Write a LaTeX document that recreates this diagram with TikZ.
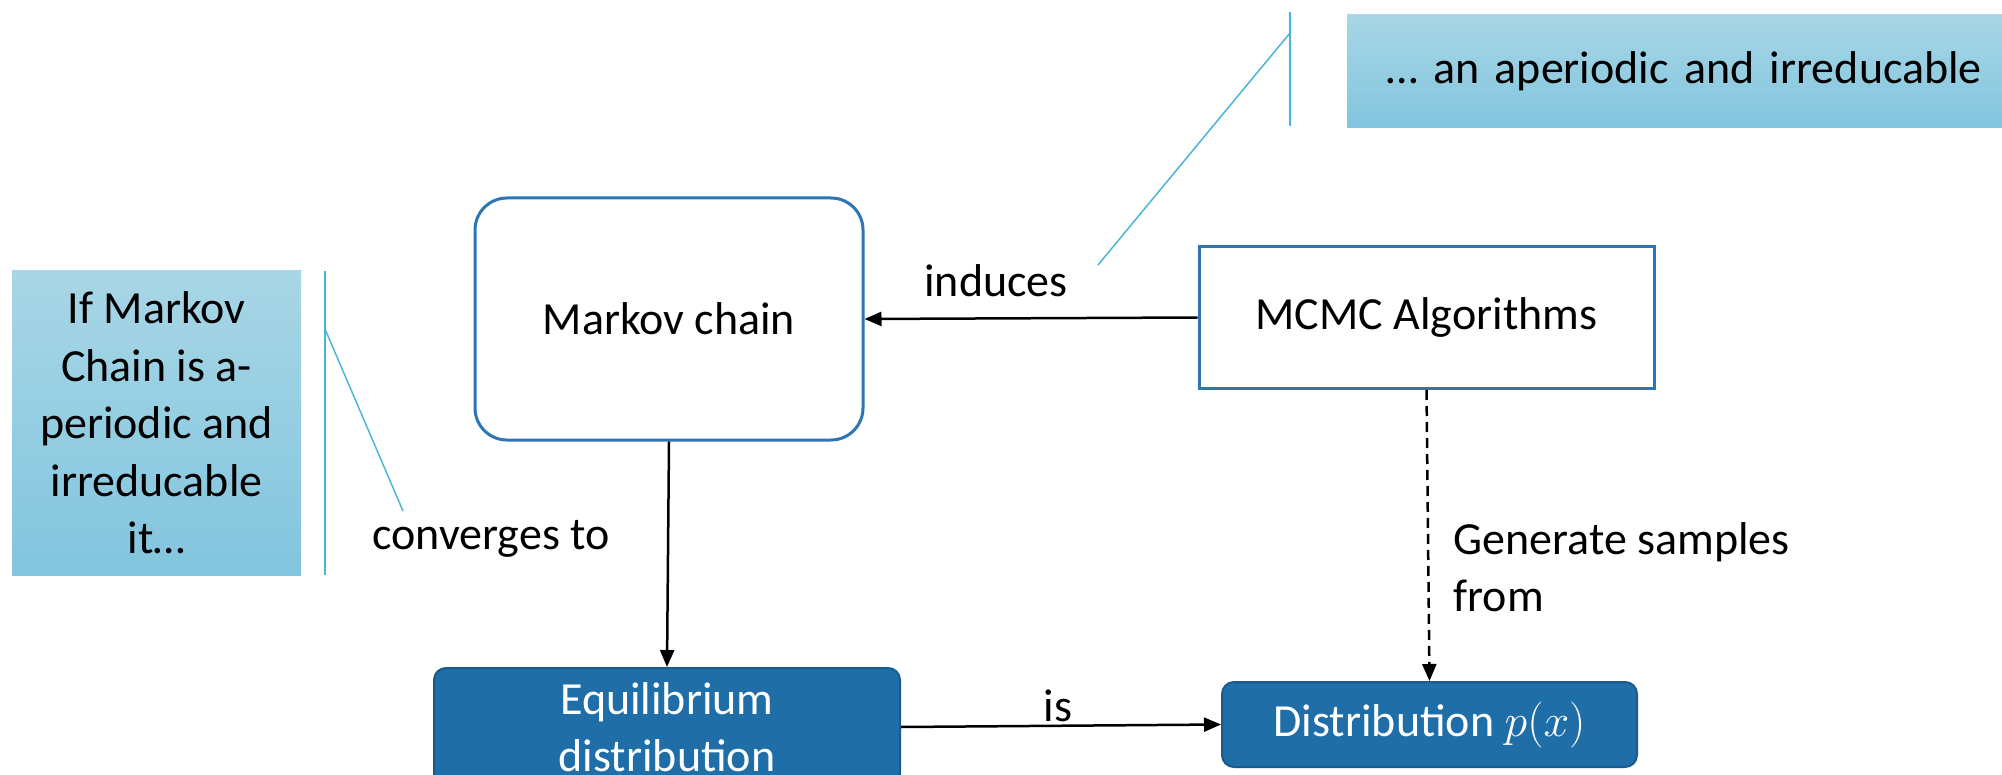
\RequirePackage{fix-cm}
\documentclass[tikz,border=0pt]{standalone}
\usepackage{fontspec}
\setmainfont{Carlito}
\usetikzlibrary{arrows.meta}

\definecolor{boxblue}{HTML}{2E75B6}
\definecolor{fillblue}{HTML}{1F6EA8}
\definecolor{edgeblue}{HTML}{1A5A8C}
\definecolor{calltop}{HTML}{A8D6E6}
\definecolor{callbot}{HTML}{82C5DE}
\definecolor{leadcyan}{HTML}{4AB5D6}

\begin{document}
\begin{tikzpicture}[x=1pt, y=-1pt, line width=2.5pt,
  big/.style={font=\fontsize{46}{57.5}\selectfont},
  outline/.style={big, draw=boxblue, line width=3pt, fill=white},
  solidbox/.style={big, text=white, fill=fillblue, draw=edgeblue, line width=2pt, rounded corners=12pt},
  callout/.style={big, top color=calltop, bottom color=callbot, inner sep=0pt},
  lead/.style={draw=leadcyan, line width=1.5pt},
  arr/.style={-{Triangle[length=17pt, width=14pt]}}]
\useasboundingbox (0,0) rectangle (2002,775);

\node[outline, rounded corners=32pt, minimum width=388pt, minimum height=242pt] (chain) at (669,319) {Markov chain};
\node[outline, minimum width=455pt, minimum height=142pt] (mcmc) at (1426.5,317.5) {MCMC Algorithms};
\node[solidbox, minimum width=466pt, minimum height=118pt, align=center] (equil) at (667,727) {Equilibrium\\distribution};
\node[solidbox, minimum width=415pt, minimum height=85pt] (distr) at (1429.5,724.5) {Distribution $p(x)$};

\node[callout, minimum width=289pt, minimum height=304pt, align=center] (ifnote) at (156.5,423) {If Markov\\Chain is a-\\periodic and\\irreducable\\it…};
\node[callout, anchor=north west, minimum height=113pt, text width=620pt, inner xsep=39pt, align=left] (topnote) at (1346,13) {… an aperiodic and irreducable};

\node[big] (induces) at (996,281) {induces};
\node[big] (conv) at (491,539) {converges to};
\node[big] (is) at (1058,706) {is};
\node[big, anchor=west, align=left] (gen) at (1449,567) {Generate samples\\from};

\draw[arr] (mcmc.west) -- (chain.east);
\draw[arr] (chain.south) -- (equil.north);
\draw[arr] (equil.east) -- (distr.west);
\draw[arr, dash pattern=on 10pt off 6pt] (mcmc.south) -- (distr.north);

\coordinate (lbar top) at (325,271);
\coordinate (lbar bot) at (325,575);
\coordinate (lbar knee) at (325,329);
\coordinate (lbar end) at (403,511);
\draw[lead] (lbar top) -- (lbar bot);
\draw[lead] (lbar knee) -- (lbar end);

\coordinate (tbar top) at (1290,12);
\coordinate (tbar bot) at (1290,126);
\coordinate (tbar knee) at (1290,33);
\coordinate (tbar end) at (1098,265);
\draw[lead] (tbar top) -- (tbar bot);
\draw[lead] (tbar knee) -- (tbar end);
\end{tikzpicture}
\end{document}
